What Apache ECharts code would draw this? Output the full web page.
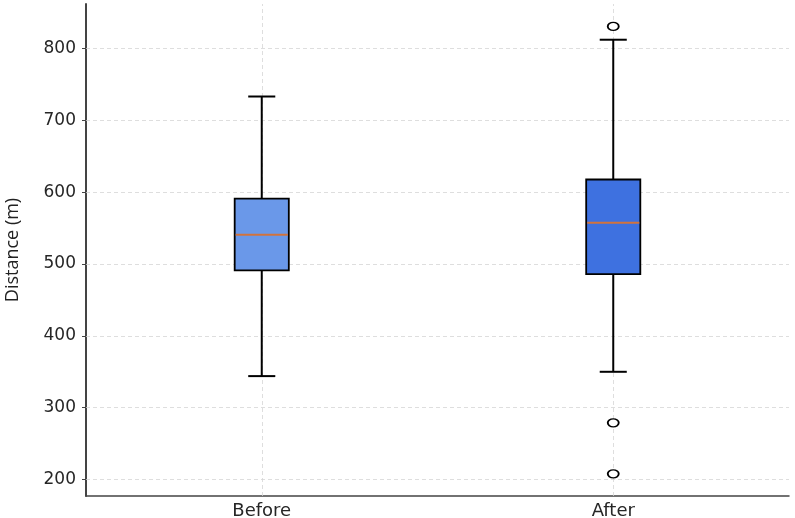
<!DOCTYPE html>
<html>
<head>
<meta charset="utf-8">
<script src="https://cdn.jsdelivr.net/npm/echarts@6/dist/echarts.min.js"></script>
<style>
  html, body { margin: 0; padding: 0; background: #fff; }
  #chart { width: 795px; height: 518px; }
</style>
</head>
<body>
<div id="chart"></div>
<script>
// box stats
var categories = ['Before', 'After'];
var lowWhisker = [344, 350];
var q1 = [491, 486];
var median = [540.5, 557.5];
var q3 = [591, 617.5];
var highWhisker = [733, 812];
var outlierCat = [1, 1, 1]; // all in "After"
var outlierVal = [830.5, 279, 208];
var yTicks = [200, 300, 400, 500, 600, 700, 800];
var boxColors = ['#6a98e9', '#3e71e0'];

var boxData = categories.map(function (c, i) {
  return [i, lowWhisker[i], q1[i], median[i], q3[i], highWhisker[i]];
});
var outlierData = outlierCat.map(function (c, i) {
  return [c, outlierVal[i]];
});

var gridLines = yTicks.map(function (v) { return { yAxis: v }; })
  .concat(categories.map(function (c) { return { xAxis: c }; }));

var myChart = echarts.init(document.getElementById('chart'), null, { renderer: 'canvas' });

var option = {
  animation: false,
  grid: { left: 86, right: 6, top: 4, bottom: 22, outerBoundsMode: 'none', containLabel: false },
  xAxis: {
    type: 'category',
    data: categories,
    axisLine: { lineStyle: { color: '#444', width: 1.5 } },
    axisTick: { alignWithLabel: true, length: 4, lineStyle: { color: '#444' } },
    axisLabel: { fontFamily: 'DejaVu Sans', fontSize: 18, color: '#262626', margin: 6 },
    splitLine: { show: false }
  },
  yAxis: {
    type: 'value',
    min: 177.2,
    max: 861.7,
    name: 'Distance (m)',
    nameLocation: 'middle',
    nameGap: 64,
    nameTextStyle: { fontFamily: 'Open Sans', fontSize: 18, color: '#222' },
    axisLine: { show: true, lineStyle: { color: '#444', width: 2 } },
    axisTick: { show: true, length: 4, customValues: yTicks, lineStyle: { color: '#444' } },
    axisLabel: {
      customValues: yTicks,
      fontFamily: 'DejaVu Sans', fontSize: 17, color: '#262626', margin: 10
    },
    splitLine: { show: false }
  },
  series: [
    {
      // grid lines
      type: 'line',
      data: [],
      silent: true,
      markLine: {
        silent: true,
        symbol: 'none',
        z: 1,
        label: { show: false },
        lineStyle: { color: '#d6d6d6', type: [4, 3], width: 0.8 },
        data: gridLines
      }
    },
    {
      type: 'custom',
      z: 3,
      data: boxData,
      encode: { x: 0, y: [1, 2, 3, 4, 5] },
      renderItem: function (params, api) {
        var idx = api.value(0);
        var pLow = api.coord([idx, api.value(1)]);
        var pQ1 = api.coord([idx, api.value(2)]);
        var pMed = api.coord([idx, api.value(3)]);
        var pQ3 = api.coord([idx, api.value(4)]);
        var pHigh = api.coord([idx, api.value(5)]);
        var band = api.size([1, 0])[0];
        var half = band * 0.077;
        var cap = half / 2;
        var x = pMed[0];
        var black = { stroke: '#000', lineWidth: 2 };
        return {
          type: 'group',
          children: [
            { type: 'line', shape: { x1: x, y1: pLow[1], x2: x, y2: pQ1[1] }, style: black },
            { type: 'line', shape: { x1: x, y1: pQ3[1], x2: x, y2: pHigh[1] }, style: black },
            { type: 'line', shape: { x1: x - cap, y1: pLow[1], x2: x + cap, y2: pLow[1] }, style: black },
            { type: 'line', shape: { x1: x - cap, y1: pHigh[1], x2: x + cap, y2: pHigh[1] }, style: black },
            {
              type: 'rect',
              shape: { x: x - half, y: pQ3[1], width: half * 2, height: pQ1[1] - pQ3[1] },
              style: { fill: boxColors[idx], stroke: '#000', lineWidth: 1.8 }
            },
            {
              type: 'line',
              shape: { x1: x - half + 1, y1: pMed[1], x2: x + half - 1, y2: pMed[1] },
              style: { stroke: '#d2733c', lineWidth: 2 }
            }
          ]
        };
      }
    },
    {
      type: 'scatter',
      z: 4,
      data: outlierData,
      symbol: 'circle',
      symbolSize: [11, 8],
      itemStyle: { color: '#ffffff', borderColor: '#000000', borderWidth: 1.6, opacity: 1 }
    }
  ]
};

myChart.setOption(option, true);
window.addEventListener('resize', myChart.resize);
</script>
</body>
</html>
